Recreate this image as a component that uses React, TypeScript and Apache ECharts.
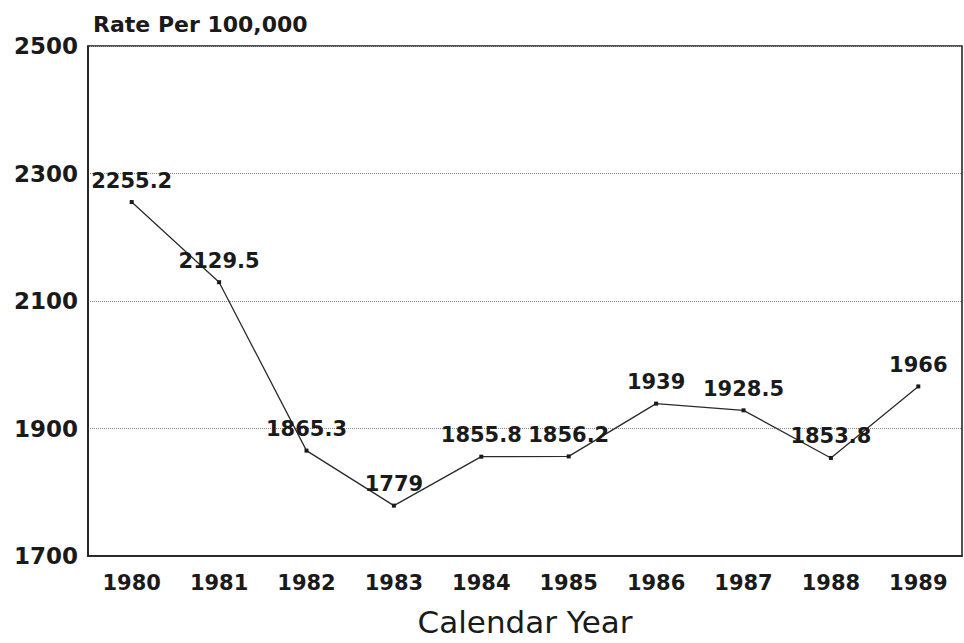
import React, { useEffect, useRef } from "react";
import * as echarts from "echarts";

const years = ["1980", "1981", "1982", "1983", "1984", "1985", "1986", "1987", "1988", "1989"];
const rates = [2255.2, 2129.5, 1865.3, 1779, 1855.8, 1856.2, 1939, 1928.5, 1853.8, 1966];
const yMin = 1700;
const yMax = 2500;
const yStep = 200;

export default function App() {
  const ref = useRef<HTMLDivElement>(null);
  useEffect(() => {
    if (!ref.current) return;
    const chart = echarts.init(ref.current, null, { renderer: "svg" });
    const font = "'DejaVu Sans', Verdana, sans-serif";
    chart.setOption({
      animation: false,
      backgroundColor: "#ffffff",
      textStyle: { fontFamily: font },
      title: {
        text: "Rate Per 100,000",
        left: 88,
        top: 8,
        textStyle: { fontSize: 22, fontWeight: "bold", color: "#1a1a1a", fontFamily: font },
      },
      grid: {
        left: 88,
        width: 874,
        top: 46,
        height: 510,
        outerBoundsMode: "none",
        containLabel: false,
        show: true,
        borderColor: "#1a1a1a",
        borderWidth: 1.5,
        backgroundColor: "transparent",
      },
      xAxis: {
        type: "category",
        data: years,
        boundaryGap: true,
        name: "Calendar Year",
        nameLocation: "middle",
        nameGap: 50,
        nameTextStyle: { fontSize: 31, color: "#1a1a1a", fontFamily: font },
        axisLine: { lineStyle: { color: "#1a1a1a", width: 1.5 } },
        axisTick: { inside: true, alignWithLabel: true, length: 10, lineStyle: { color: "#1a1a1a", width: 1.2 } },
        axisLabel: { fontSize: 21, fontWeight: "bold", color: "#1a1a1a", margin: 16, fontFamily: font },
        splitLine: { show: false },
      },
      yAxis: {
        type: "value",
        min: yMin,
        max: yMax,
        interval: yStep,
        axisLine: { show: true, lineStyle: { color: "#1a1a1a", width: 1.5 } },
        axisTick: { show: false },
        axisLabel: {
          fontSize: 23,
          fontWeight: "bold",
          color: "#1a1a1a",
          margin: 10,
          fontFamily: font,
          formatter: (v: number) => String(v),
        },
        splitLine: { show: true, lineStyle: { color: "#8a8a8a", type: "dotted", width: 1 } },
      },
      series: [
        {
          type: "line",
          data: rates,
          symbol: "rect",
          symbolSize: 4,
          itemStyle: { color: "#1a1a1a" },
          lineStyle: { color: "#2a2a2a", width: 1.3 },
          label: {
            show: true,
            position: "top",
            distance: 9,
            fontSize: 21,
            fontWeight: "bold",
            color: "#1a1a1a",
            fontFamily: font,
          },
        },
      ],
    });
    return () => chart.dispose();
  }, []);
  return (
    <div
      ref={ref}
      style={{ position: "absolute", left: 0, top: 0, width: 964, height: 643, background: "#fff" }}
    />
  );
}
